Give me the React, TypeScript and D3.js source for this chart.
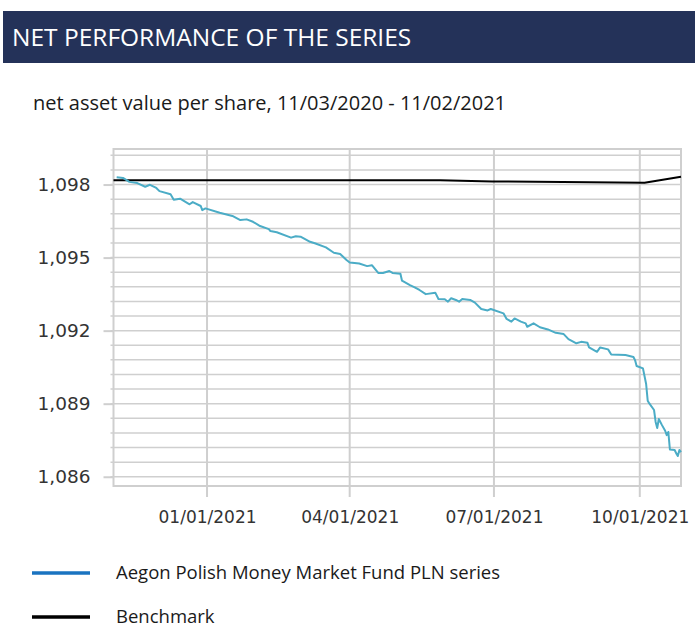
import { useEffect, useRef } from "react";
import { axisBottom, axisLeft, line, range, scaleLinear, scaleTime, select, timeFormat, timeParse } from "d3";

// Values (NAV per share, PLN).
const navDates = [
  "2020-11-05", "2020-11-09", "2020-11-13", "2020-11-18", "2020-11-23", "2020-11-26", "2020-11-30", "2020-12-02", "2020-12-09", "2020-12-11",
  "2020-12-15", "2020-12-21", "2020-12-23", "2020-12-28", "2020-12-29", "2020-12-31", "2021-01-09", "2021-01-17", "2021-01-22", "2021-01-26",
  "2021-01-30", "2021-02-03", "2021-02-09", "2021-02-10", "2021-02-14", "2021-02-23", "2021-02-26", "2021-03-01", "2021-03-07", "2021-03-10",
  "2021-03-17", "2021-03-22", "2021-03-26", "2021-03-30", "2021-04-01", "2021-04-07", "2021-04-12", "2021-04-15", "2021-04-19", "2021-04-22",
  "2021-04-26", "2021-04-28", "2021-05-03", "2021-05-04", "2021-05-09", "2021-05-12", "2021-05-15", "2021-05-19", "2021-05-25", "2021-05-27",
  "2021-05-31", "2021-06-02", "2021-06-04", "2021-06-07", "2021-06-09", "2021-06-11", "2021-06-16", "2021-06-19", "2021-06-23", "2021-06-27",
  "2021-06-29", "2021-07-07", "2021-07-09", "2021-07-12", "2021-07-14", "2021-07-18", "2021-07-21", "2021-07-22", "2021-07-26", "2021-07-30",
  "2021-08-04", "2021-08-09", "2021-08-14", "2021-08-17", "2021-08-22", "2021-08-25", "2021-08-29", "2021-08-30", "2021-09-04", "2021-09-06",
  "2021-09-11", "2021-09-13", "2021-09-22", "2021-09-27", "2021-09-28", "2021-09-29", "2021-10-03", "2021-10-05", "2021-10-06", "2021-10-07",
  "2021-10-10", "2021-10-11", "2021-10-12", "2021-10-13", "2021-10-15", "2021-10-17", "2021-10-18", "2021-10-19", "2021-10-20", "2021-10-23",
  "2021-10-24", "2021-10-25", "2021-10-26", "2021-10-27",
];
const navValues = [
  1.0983, 1.09827, 1.09811, 1.09806, 1.09791, 1.09799, 1.09786, 1.09773, 1.0976, 1.09738,
  1.09742, 1.09719, 1.09728, 1.09712, 1.09695, 1.09702, 1.09684, 1.09671, 1.09654, 1.09657,
  1.09647, 1.09631, 1.09617, 1.09609, 1.09604, 1.09582, 1.09588, 1.09586, 1.09565, 1.09559,
  1.09542, 1.0952, 1.09515, 1.0949, 1.0948, 1.09476, 1.09465, 1.09469, 1.09437, 1.09437,
  1.09445, 1.09437, 1.09434, 1.09405, 1.09387, 1.09378, 1.09367, 1.0935, 1.09356, 1.0933,
  1.09329, 1.09319, 1.09333, 1.09326, 1.09319, 1.0933, 1.09326, 1.09315, 1.09289, 1.09283,
  1.09289, 1.09271, 1.09248, 1.09237, 1.0925, 1.09237, 1.0923, 1.09216, 1.0923, 1.09214,
  1.09205, 1.09191, 1.09186, 1.09165, 1.09148, 1.09154, 1.0915, 1.09131, 1.09113, 1.09131,
  1.09123, 1.09102, 1.091, 1.09092, 1.09079, 1.09055, 1.09045, 1.08981, 1.08912, 1.08901,
  1.08874, 1.08825, 1.088, 1.08837, 1.08812, 1.08789, 1.08771, 1.08784, 1.08712, 1.0871,
  1.08696, 1.08685, 1.0871, 1.08701,
];
const benchmarkDates = ["2020-11-03", "2021-05-28", "2021-06-30", "2021-10-04", "2021-10-27"];
const benchmarkValues = [1.09818, 1.09818, 1.09813, 1.09807, 1.09832];

const xTickDates = ["2021-01-01", "2021-04-01", "2021-07-01", "2021-10-01"];
const yTickValues = [1.086, 1.089, 1.092, 1.095, 1.098];
const yDomain = [1.08562, 1.09946];

const seriesNames = ["Aegon Polish Money Market Fund PLN series", "Benchmark"];

const W = 695,
  H = 628;
const M = { left: 113.5, right: 681, top: 149, bottom: 486 };
const GRID = "#cfcfcf";
const LABEL_FONT = "'DejaVu Sans', Verdana, sans-serif";
const TEXT_FONT = "'Open Sans', 'Noto Sans', sans-serif";

const parse = timeParse("%Y-%m-%d");
const fmtValue = (v: number) => v.toFixed(3).replace(".", ",");

export default function App() {
  const ref = useRef<SVGSVGElement>(null);

  useEffect(() => {
    if (!ref.current) return;
    const svg = select(ref.current);
    svg.selectAll("*").remove();

    const nav = navDates.map((d, i) => ({ date: parse(d) as Date, value: navValues[i] }));
    const bench = benchmarkDates.map((d, i) => ({ date: parse(d) as Date, value: benchmarkValues[i] }));

    const x = scaleTime()
      .domain([bench[0].date, bench[bench.length - 1].date])
      .range([M.left, M.right]);
    const y = scaleLinear().domain(yDomain).range([M.bottom, M.top]);

    // header band
    svg.append("rect").attr("x", 3).attr("y", 11).attr("width", W - 3).attr("height", 52).attr("fill", "#243259");
    svg
      .append("text")
      .attr("x", 12)
      .attr("y", 46)
      .attr("fill", "#fff")
      .attr("font-family", TEXT_FONT)
      .attr("font-size", 24.5)
      .text("NET PERFORMANCE OF THE SERIES");
    svg
      .append("text")
      .attr("x", 33)
      .attr("y", 110)
      .attr("fill", "#1a1a1a")
      .attr("font-family", TEXT_FONT)
      .attr("font-size", 20)
      .text("net asset value per share, 11/03/2020 - 11/02/2021");

    // minor grid (every 0.0006) with small ticks on the value axis
    const minor = range(0, 24)
      .map((i) => yTickValues[0] + i * 0.0006)
      .filter((v) => v <= yDomain[1]);
    const g = svg.append("g");
    g.selectAll("line.hgrid")
      .data(minor)
      .join("line")
      .attr("class", "hgrid")
      .attr("x1", M.left - 3)
      .attr("x2", M.right)
      .attr("y1", (d) => y(d))
      .attr("y2", (d) => y(d))
      .attr("stroke", GRID)
      .attr("stroke-width", 1.5);

    // vertical grid, extended below as tick marks
    g.selectAll("line.vgrid")
      .data(xTickDates)
      .join("line")
      .attr("class", "vgrid")
      .attr("x1", (d) => x(parse(d) as Date))
      .attr("x2", (d) => x(parse(d) as Date))
      .attr("y1", M.top)
      .attr("y2", M.bottom + 11)
      .attr("stroke", GRID)
      .attr("stroke-width", 2);

    // plot border
    svg
      .append("rect")
      .attr("x", M.left)
      .attr("y", M.top)
      .attr("width", M.right - M.left)
      .attr("height", M.bottom - M.top)
      .attr("fill", "none")
      .attr("stroke", GRID)
      .attr("stroke-width", 2);

    // value axis
    const yAxis = svg
      .append("g")
      .attr("transform", `translate(${M.left},0)`)
      .call(axisLeft(y).tickValues(yTickValues).tickSize(10).tickPadding(13).tickFormat((d) => fmtValue(+d)));
    yAxis.select(".domain").remove();
    yAxis.selectAll(".tick line").attr("stroke", GRID).attr("stroke-width", 2);
    yAxis
      .selectAll(".tick text")
      .attr("fill", "#333")
      .attr("font-family", LABEL_FONT)
      .attr("font-size", 18.5);

    // date axis labels
    const xAxis = svg
      .append("g")
      .attr("transform", `translate(0,${M.bottom})`)
      .call(
        axisBottom(x)
          .tickValues(xTickDates.map((d) => parse(d) as Date))
          .tickSize(0)
          .tickPadding(25)
          .tickFormat((d) => timeFormat("%m/%d/%Y")(d as Date))
      );
    xAxis.select(".domain").remove();
    xAxis
      .selectAll(".tick text")
      .attr("fill", "#333")
      .attr("font-family", LABEL_FONT)
      .attr("font-size", 17);

    // series
    const lineGen = line<{ date: Date; value: number }>()
      .x((d) => x(d.date))
      .y((d) => y(d.value));
    svg
      .append("path")
      .attr("d", lineGen(bench) || "")
      .attr("fill", "none")
      .attr("stroke", "#000")
      .attr("stroke-width", 2)
      .attr("stroke-linejoin", "round");
    svg
      .append("path")
      .attr("d", lineGen(nav) || "")
      .attr("fill", "none")
      .attr("stroke", "#4bacc6")
      .attr("stroke-width", 2)
      .attr("stroke-linejoin", "round");

    // legend
    const legendColors = ["#1a73c0", "#000"];
    const lg = svg
      .selectAll("g.legend")
      .data(seriesNames)
      .join("g")
      .attr("class", "legend")
      .attr("transform", (_d, i) => `translate(0,${573 + i * 44})`);
    lg.append("line")
      .attr("x1", 32)
      .attr("x2", 90)
      .attr("stroke", (_d, i) => legendColors[i])
      .attr("stroke-width", 3.5);
    lg.append("text")
      .attr("x", 116)
      .attr("dy", "0.3em")
      .attr("fill", "#1a1a1a")
      .attr("font-family", TEXT_FONT)
      .attr("font-size", 18.5)
      .text((d) => d);
  }, []);

  return (
    <svg
      ref={ref}
      width={W}
      height={H}
      viewBox={`0 0 ${W} ${H}`}
      style={{ position: "absolute", left: 0, top: 0, background: "#fff" }}
    />
  );
}
